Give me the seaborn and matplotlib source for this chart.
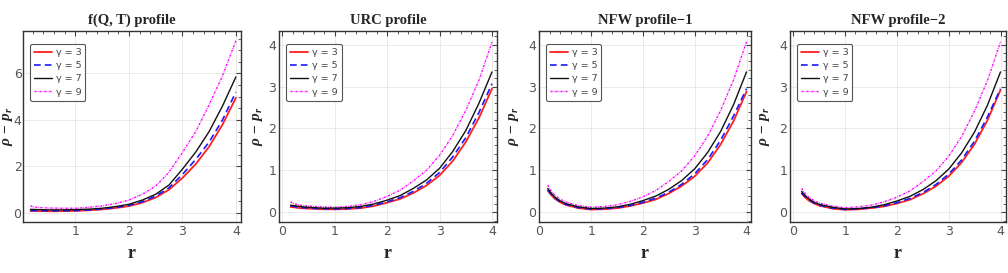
import numpy as np
import pandas as pd
import seaborn as sns
import matplotlib.pyplot as plt
from matplotlib.ticker import AutoMinorLocator

sns.set_style("white")
plt.rcParams.update({
    'mathtext.fontset': 'custom',
    'mathtext.it': 'Liberation Serif:italic:bold',
    'mathtext.rm': 'Liberation Serif:bold',
})

# radial coordinate
r = [0.16, 0.2, 0.25, 0.3, 0.4, 0.5, 0.75, 1, 1.25, 1.5, 1.75, 2,
     2.25, 2.5, 2.75, 3, 3.25, 3.5, 3.75, 4]
gammas = ["γ = 3", "γ = 5", "γ = 7", "γ = 9"]
titles = ["f(Q, T) profile", "URC profile", "NFW profile\u22121", "NFW profile\u22122"]

# f(Q,T) profile
fqt_g3 = [0.08, 0.08, 0.08, 0.075, 0.075, 0.07, 0.075, 0.085, 0.11, 0.15, 0.21, 0.29, 0.44, 0.66, 1.0, 1.5, 2.1, 2.85, 3.8, 4.95]
fqt_g5 = [0.1, 0.1, 0.1, 0.095, 0.095, 0.09, 0.09, 0.1, 0.125, 0.165, 0.23, 0.32, 0.48, 0.72, 1.08, 1.65, 2.3, 3.05, 4.0, 5.2]
fqt_g7 = [0.15, 0.15, 0.145, 0.14, 0.135, 0.13, 0.13, 0.14, 0.16, 0.2, 0.27, 0.37, 0.55, 0.8, 1.2, 1.88, 2.62, 3.5, 4.6, 5.85]
fqt_g9 = [0.3, 0.27, 0.25, 0.23, 0.22, 0.21, 0.2, 0.2, 0.24, 0.3, 0.4, 0.55, 0.8, 1.15, 1.75, 2.6, 3.5, 4.65, 5.9, 7.4]

# URC profile
urc_g3 = [0.13, 0.125, 0.115, 0.105, 0.095, 0.09, 0.075, 0.07, 0.08, 0.1, 0.15, 0.23, 0.32, 0.46, 0.64, 0.88, 1.22, 1.68, 2.25, 2.95]
urc_g5 = [0.15, 0.145, 0.135, 0.125, 0.11, 0.1, 0.085, 0.08, 0.09, 0.11, 0.17, 0.25, 0.35, 0.5, 0.69, 0.95, 1.32, 1.78, 2.38, 3.07]
urc_g7 = [0.17, 0.165, 0.155, 0.145, 0.13, 0.12, 0.1, 0.1, 0.11, 0.14, 0.2, 0.29, 0.4, 0.57, 0.77, 1.05, 1.45, 1.95, 2.6, 3.35]
urc_g9 = [0.25, 0.22, 0.2, 0.18, 0.16, 0.15, 0.13, 0.12, 0.14, 0.18, 0.26, 0.38, 0.53, 0.75, 1.0, 1.36, 1.83, 2.43, 3.15, 4.06]

# NFW profile-1
nfw1_g3 = [0.52, 0.45, 0.38, 0.32, 0.24, 0.18, 0.1, 0.065, 0.075, 0.1, 0.15, 0.22, 0.31, 0.45, 0.63, 0.86, 1.18, 1.62, 2.18, 2.88]
nfw1_g5 = [0.54, 0.47, 0.4, 0.34, 0.25, 0.19, 0.11, 0.075, 0.085, 0.11, 0.16, 0.24, 0.34, 0.48, 0.67, 0.92, 1.26, 1.72, 2.3, 2.95]
nfw1_g7 = [0.57, 0.5, 0.42, 0.36, 0.27, 0.21, 0.13, 0.09, 0.1, 0.13, 0.19, 0.28, 0.39, 0.55, 0.76, 1.04, 1.43, 1.93, 2.57, 3.35]
nfw1_g9 = [0.65, 0.56, 0.47, 0.4, 0.31, 0.25, 0.16, 0.12, 0.14, 0.18, 0.26, 0.37, 0.52, 0.74, 0.99, 1.35, 1.82, 2.43, 3.16, 4.07]

# NFW profile-2
nfw2_g3 = [0.45, 0.39, 0.33, 0.28, 0.21, 0.16, 0.09, 0.06, 0.07, 0.1, 0.14, 0.21, 0.3, 0.44, 0.62, 0.86, 1.19, 1.63, 2.2, 2.92]
nfw2_g5 = [0.47, 0.41, 0.35, 0.3, 0.22, 0.17, 0.1, 0.07, 0.08, 0.11, 0.15, 0.23, 0.33, 0.47, 0.66, 0.91, 1.25, 1.7, 2.28, 2.95]
nfw2_g7 = [0.5, 0.44, 0.37, 0.32, 0.24, 0.19, 0.12, 0.08, 0.09, 0.12, 0.18, 0.27, 0.38, 0.54, 0.75, 1.03, 1.42, 1.92, 2.56, 3.35]
nfw2_g9 = [0.57, 0.5, 0.42, 0.36, 0.28, 0.22, 0.15, 0.11, 0.13, 0.17, 0.25, 0.36, 0.51, 0.73, 0.98, 1.34, 1.81, 2.42, 3.15, 4.07]

panels = [
    [fqt_g3, fqt_g5, fqt_g7, fqt_g9],
    [urc_g3, urc_g5, urc_g7, urc_g9],
    [nfw1_g3, nfw1_g5, nfw1_g7, nfw1_g9],
    [nfw2_g3, nfw2_g5, nfw2_g7, nfw2_g9],
]

palette = {"γ = 3": "#ff2020", "γ = 5": "#1a1aff", "γ = 7": "#111111", "γ = 9": "#ff00ff"}
dashes = {"γ = 3": "", "γ = 5": (4, 2.5), "γ = 7": "", "γ = 9": (1.5, 0.8, 0.5, 0.8)}
widths = {"γ = 3": 1.3, "γ = 5": 1.2, "γ = 7": 1.0, "γ = 9": 1.0}

# axes boxes (left, bottom, width, height) in figure fraction
boxes = [
    (0.0228, 0.187, 0.216, 0.70),
    (0.2768, 0.187, 0.216, 0.70),
    (0.5347, 0.187, 0.210, 0.70),
    (0.7837, 0.187, 0.214, 0.70),
]
xlims = [(0.02, 4.09), (-0.06, 4.09), (-0.01, 4.08), (-0.065, 4.1)]
ylims = [(-0.39, 7.83), (-0.23, 4.33), (-0.23, 4.33), (-0.23, 4.33)]
xticks = [[1, 2, 3, 4], [0, 1, 2, 3, 4], [0, 1, 2, 3, 4], [0, 1, 2, 3, 4]]
yticks = [[0, 2, 4, 6], [0, 1, 2, 3, 4], [0, 1, 2, 3, 4], [0, 1, 2, 3, 4]]
ylab_x = [-0.036, -0.064, -0.085, -0.083]
ytick_pad = [1, 2, 2, 2]

fig = plt.figure(figsize=(10.08, 2.73), dpi=100)

for i, series in enumerate(panels):
    ax = fig.add_axes(boxes[i])
    df = pd.DataFrame({
        'r': r * 4,
        'v': [v for s in series for v in s],
        'gamma': [g for g in gammas for _ in r],
    })
    for g in gammas:
        sub = df[df['gamma'] == g]
        sns.lineplot(data=sub, x='r', y='v', color=palette[g], lw=widths[g],
                     dashes=False, label=g, ax=ax, zorder=3 if g != "γ = 9" else 2)
        line = ax.get_lines()[-1]
        if dashes[g]:
            line.set_dashes(dashes[g])
    ax.set_xlim(*xlims[i])
    ax.set_ylim(*ylims[i])
    ax.set_xticks(xticks[i])
    ax.set_yticks(yticks[i])
    ax.xaxis.set_minor_locator(AutoMinorLocator(5))
    ax.yaxis.set_minor_locator(AutoMinorLocator(5 if i else 4))
    ax.tick_params(which='both', direction='in', top=True, right=True,
                   colors='#444444', labelcolor='#555555', labelsize=9, pad=2)
    ax.tick_params(axis='y', which='both', pad=ytick_pad[i])
    ax.tick_params(which='major', length=3.5, width=0.8)
    ax.tick_params(which='minor', length=2, width=0.6)
    ax.grid(True, which='major', color='#e6e6e6', lw=0.6)
    ax.set_axisbelow(True)
    for sp in ax.spines.values():
        sp.set_color('#333333')
        sp.set_linewidth(1.0)
    ax.set_title(titles[i], fontfamily='Liberation Serif', fontweight='bold',
                 fontsize=10.5, pad=5)
    ax.set_xlabel('r', fontfamily='Liberation Serif', fontweight='bold', fontsize=13,
                  labelpad=5)
    ax.set_ylabel(r'$\rho\,-\,p_r$', fontsize=11)
    ax.yaxis.set_label_coords(ylab_x[i], 0.5)
    leg = ax.legend(loc='upper left', bbox_to_anchor=(0.03, 0.935),
                    prop={'size': 6.8},
                    handlelength=1.9, handletextpad=0.4, labelspacing=0.45,
                    borderpad=0.4, borderaxespad=0.1, frameon=True, fancybox=True,
                    framealpha=1)
    leg.get_frame().set_edgecolor('#555555')
    leg.get_frame().set_linewidth(0.8)
    for t in leg.get_texts():
        t.set_color('#444444')

fig.savefig('out.png', dpi=100)
